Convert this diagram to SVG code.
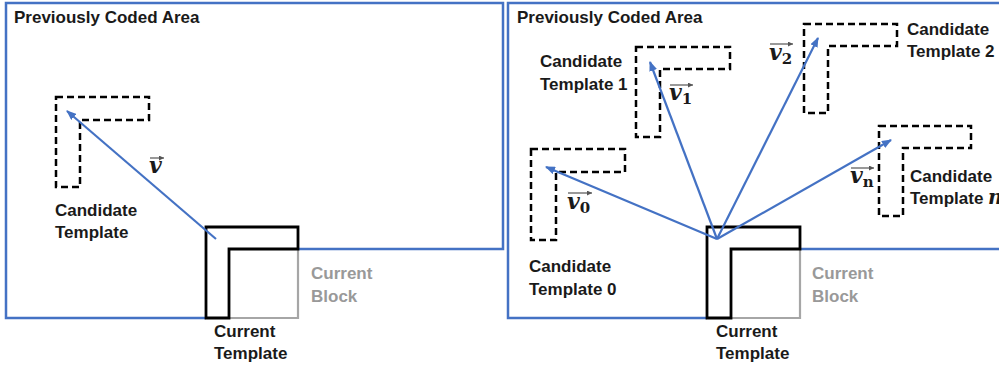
<svg xmlns="http://www.w3.org/2000/svg" width="999" height="370" viewBox="0 0 999 370">
  <style>
    .lbl { font-family: "Liberation Sans", Arial, sans-serif; font-weight: bold; font-size: 17px; fill: #1a1a1a; }
    .gray { fill: #999999; }
    .math { font-family: "DejaVu Serif", "Liberation Serif", serif; font-style: italic; font-weight: bold; font-size: 22px; fill: #1a1a1a; }
    .sub { font-style: normal; font-size: 15px; }
    .area { fill: none; stroke: #4472C4; stroke-width: 2.5; }
    .cur { fill: none; stroke: #000; stroke-width: 2.8; stroke-linejoin: miter; }
    .blk { fill: none; stroke: #a6a6a6; stroke-width: 2.2; }
    .cand { fill: none; stroke: #000; stroke-width: 2.5; stroke-dasharray: 7 4; }
    .vec { fill: none; stroke: #4472C4; stroke-width: 2.2; marker-end: url(#ah); }
    .over { fill: none; stroke: #555; stroke-width: 1.2; marker-end: url(#oh); }
  </style>
  <defs>
    <marker id="ah" viewBox="0 0 10 8" refX="9" refY="4" markerWidth="10" markerHeight="8" markerUnits="userSpaceOnUse" orient="auto">
      <path d="M0,0 L10,4 L0,8 Z" fill="#4472C4"/>
    </marker>
    <marker id="oh" viewBox="0 0 6 6" refX="6" refY="3" markerWidth="5" markerHeight="5" markerUnits="userSpaceOnUse" orient="auto">
      <path d="M0,0 L6,3 L0,6 Z" fill="#555"/>
    </marker>
  </defs>

  <!-- Left panel -->
  <g id="left-area">
    <path class="area" d="M206,318 H6 V3 H503 V249 H298"/>
    <text class="lbl" x="14" y="23">Previously Coded Area</text>
  </g>
  <g id="left-current-block">
    <path class="blk" d="M229,318 H298 V249"/>
    <text class="lbl gray" x="311" y="279">Current</text>
    <text class="lbl gray" x="311" y="302">Block</text>
  </g>
  <g id="left-current-template">
    <path class="cur" d="M206,227 H298 V249 H229 V318 H206 Z"/>
    <text class="lbl" x="214" y="337">Current</text>
    <text class="lbl" x="214" y="359">Template</text>
  </g>
  <g id="left-candidate">
    <path class="cand" d="M56,97 H149 V120 H80 V187 H56 Z"/>
    <text class="lbl" x="55" y="216">Candidate</text>
    <text class="lbl" x="55" y="238">Template</text>
  </g>

  <!-- Right panel -->
  <g id="right-area">
    <path class="area" d="M707,318 H508 V3 H1002"/>
    <path class="area" d="M800,249 H1002"/>
    <text class="lbl" x="517" y="23">Previously Coded Area</text>
  </g>
  <g id="right-current-block">
    <path class="blk" d="M731,318 H800 V249"/>
    <text class="lbl gray" x="812" y="279">Current</text>
    <text class="lbl gray" x="812" y="302">Block</text>
  </g>
  <g id="right-current-template">
    <path class="cur" d="M707,227 H800 V249 H731 V318 H707 Z"/>
    <text class="lbl" x="716" y="337">Current</text>
    <text class="lbl" x="716" y="359">Template</text>
  </g>
  <g id="candidate-0">
    <path class="cand" d="M531,149 H625 V172 H556 V240 H531 Z"/>
    <text class="lbl" x="529" y="272">Candidate</text>
    <text class="lbl" x="529" y="295">Template 0</text>
  </g>
  <g id="candidate-1">
    <path class="cand" d="M636,47 H730 V69 H660 V137 H636 Z"/>
    <text class="lbl" x="540" y="67">Candidate</text>
    <text class="lbl" x="540" y="90">Template 1</text>
  </g>
  <g id="candidate-2">
    <path class="cand" d="M804,24 H897 V46 H828 V113 H804 Z"/>
    <text class="lbl" x="907" y="35">Candidate</text>
    <text class="lbl" x="907" y="57">Template 2</text>
  </g>
  <g id="candidate-n">
    <path class="cand" d="M879,126 H971 V148 H903 V216 H879 Z"/>
    <text class="lbl" x="910" y="182">Candidate</text>
    <text class="lbl" x="910" y="204">Template <tspan font-family="DejaVu Serif, Liberation Serif, serif" font-style="italic" font-weight="bold" font-size="20">n</tspan></text>
  </g>

  <!-- Connectors -->
  <g id="connectors">
    <line class="vec" x1="216" y1="239" x2="67" y2="111"/>
    <line class="vec" x1="717" y1="239" x2="546" y2="167"/>
    <line class="vec" x1="717" y1="239" x2="650" y2="62"/>
    <line class="vec" x1="717" y1="239" x2="818" y2="38"/>
    <line class="vec" x1="717" y1="239" x2="891" y2="140"/>
  </g>

  <!-- Vector labels -->
  <g id="vector-labels">
    <text class="math" x="149" y="173">v</text>
    <line class="over" x1="150" y1="158" x2="164" y2="158"/>

    <text class="math" x="567" y="209">v<tspan class="sub" dy="4">0</tspan></text>
    <line class="over" x1="568" y1="193" x2="592" y2="193"/>

    <text class="math" x="669" y="100">v<tspan class="sub" dy="4">1</tspan></text>
    <line class="over" x1="670" y1="85" x2="693" y2="85"/>

    <text class="math" x="769" y="60">v<tspan class="sub" dy="4">2</tspan></text>
    <line class="over" x1="770" y1="44" x2="793" y2="44"/>

    <text class="math" x="850" y="183">v<tspan class="sub" dy="4" font-style="italic">n</tspan></text>
    <line class="over" x1="851" y1="168" x2="874" y2="168"/>
  </g>
</svg>
